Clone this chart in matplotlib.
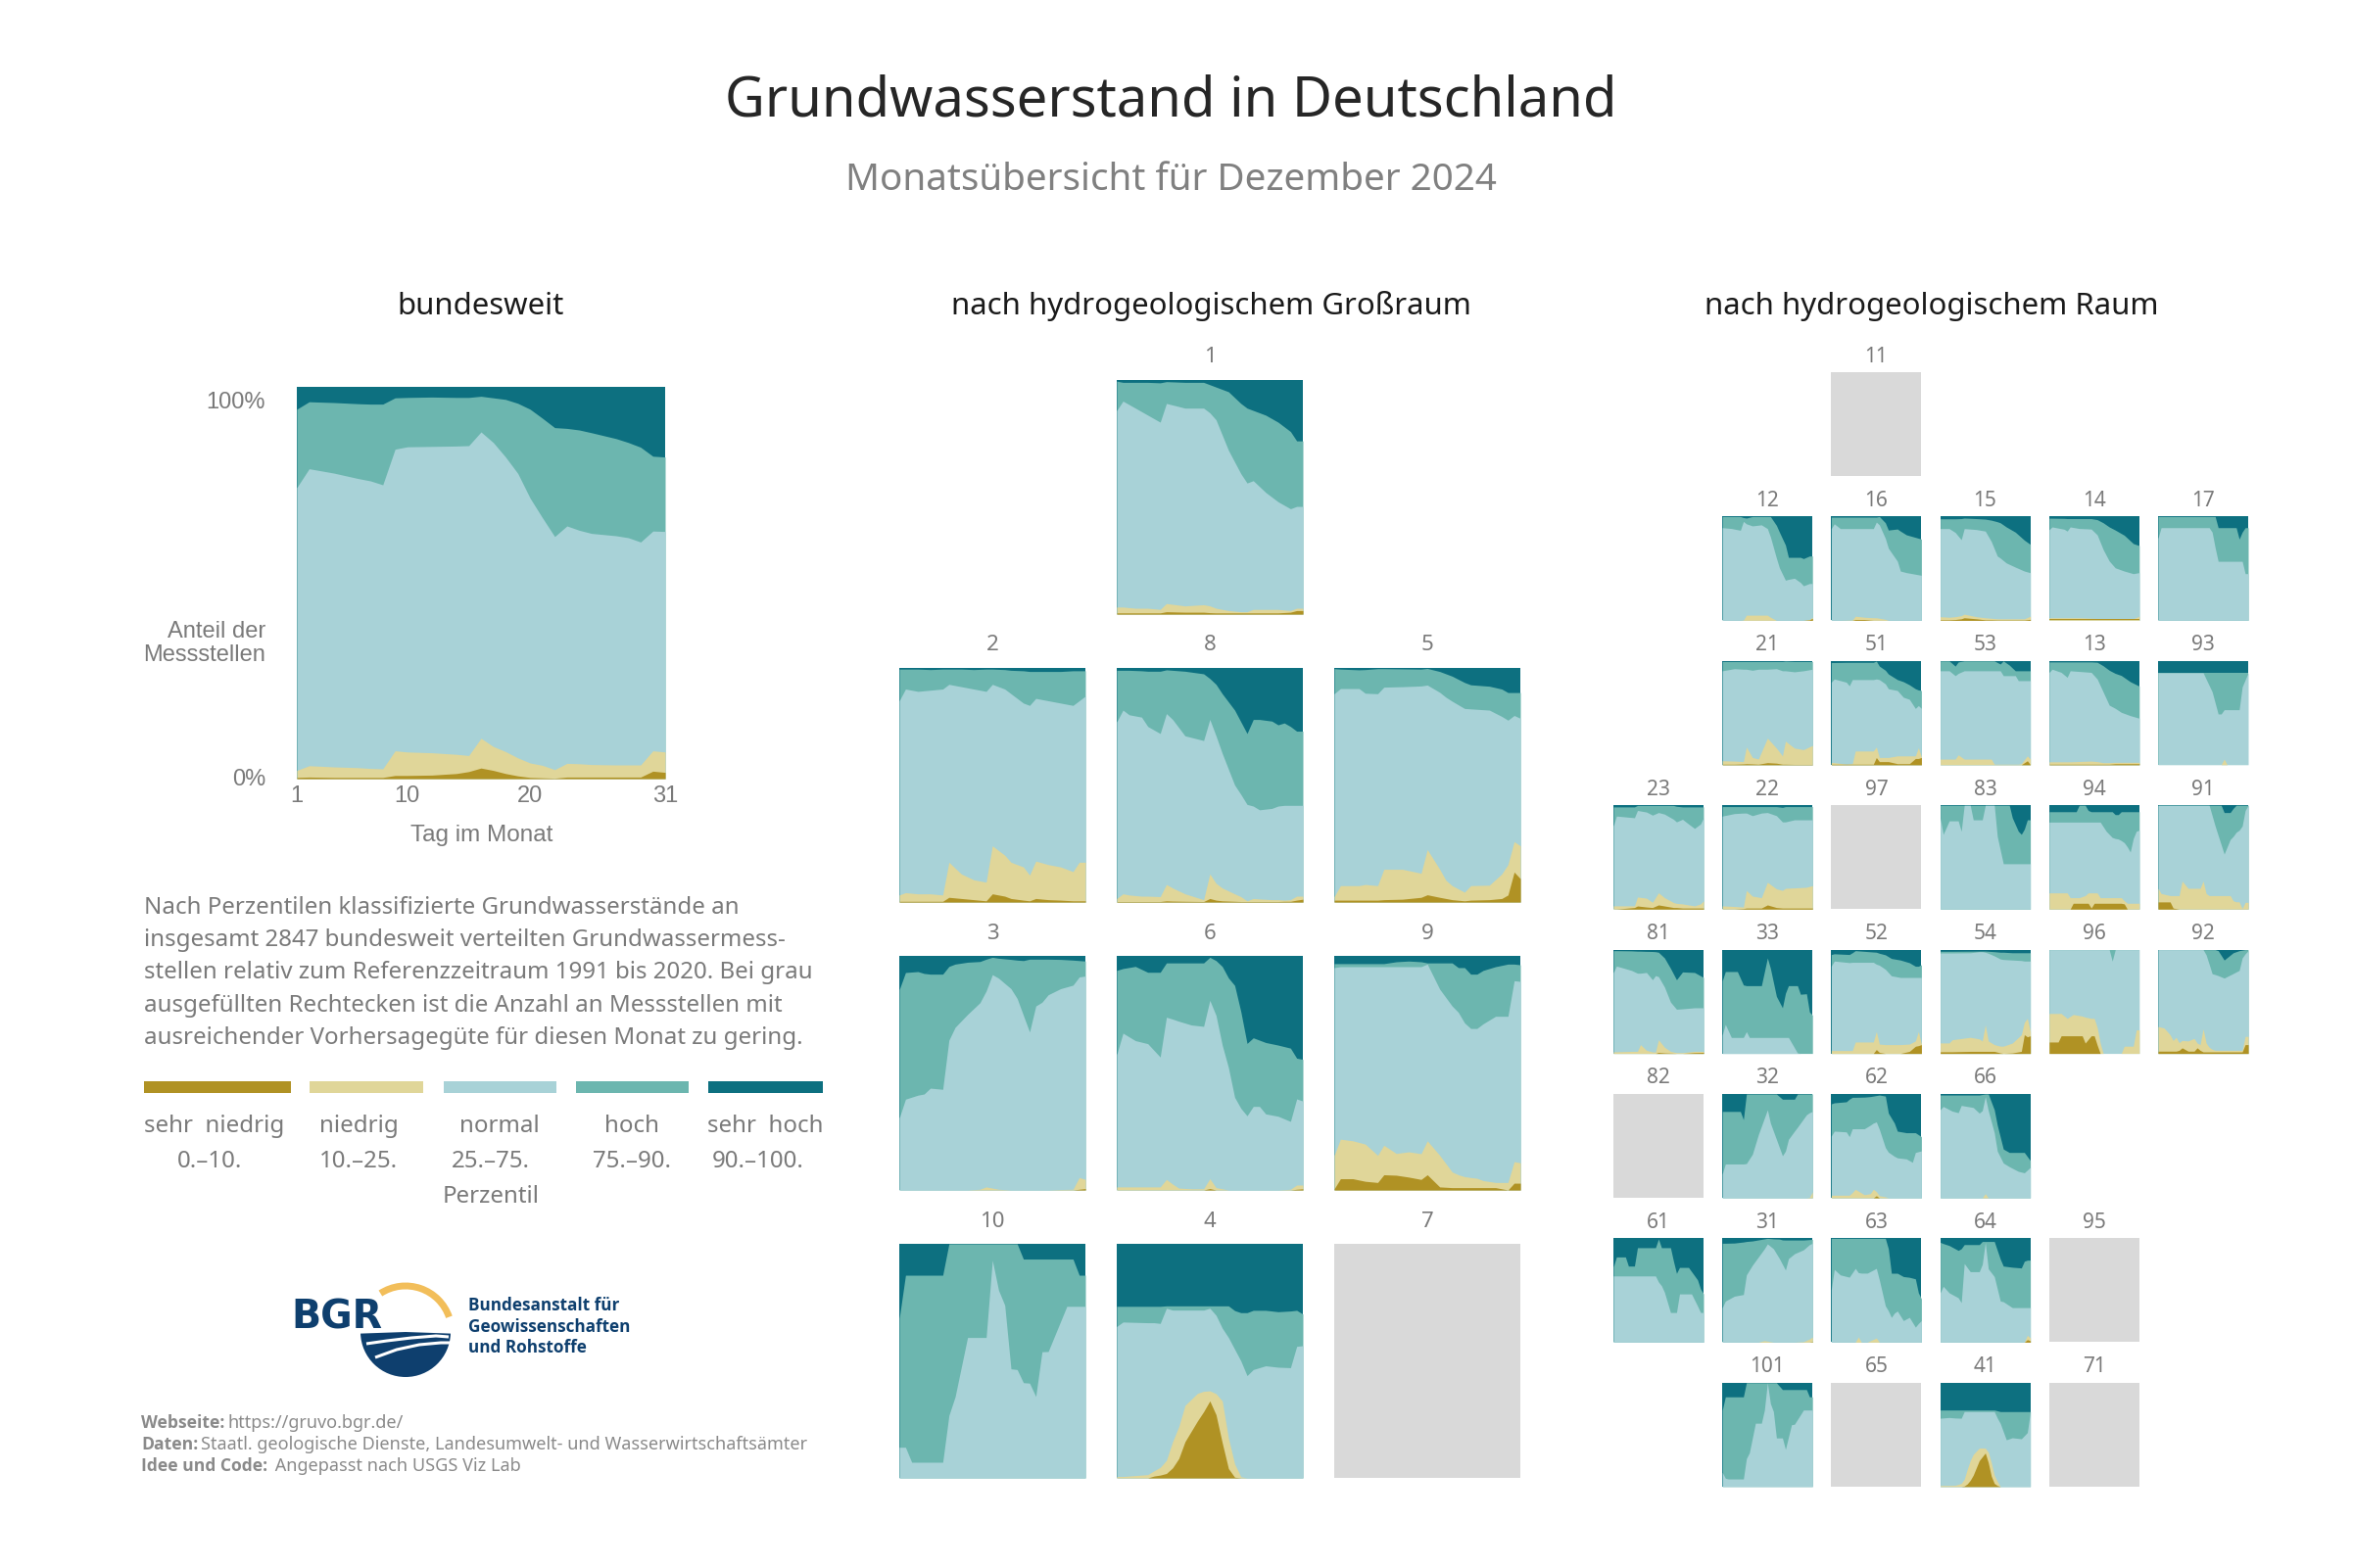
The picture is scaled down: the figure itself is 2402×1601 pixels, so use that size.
import matplotlib
matplotlib.use("Agg")
import matplotlib.pyplot as plt
import numpy as np
from matplotlib.patches import Arc, Wedge

plt.rcParams["font.family"] = ["Noto Sans", "DejaVu Sans"]

W, H = 2402, 1601

CLASS_NAMES = ["sehr  niedrig", "niedrig", "normal", "hoch", "sehr  hoch"]
CLASS_RANGES = ["0.–10.", "10.–25.", "25.–75.", "75.–90.", "90.–100."]
CLASS_COLORS = ["#B09224", "#E0D699", "#A8D2D7", "#6CB6AF", "#0D7080"]
NO_DATA = "#D9D9D9"
DAY_TICKS = [1, 10, 20, 31]

# rows: (day, top of sehr niedrig, top of niedrig, top of normal, top of hoch), cumulative %
BUNDESWEIT = [
    (1, 0.3, 2.1, 74.3, 94.3), (2, 0.4, 3.3, 79.1, 96.2), (4, 0.3, 3.0, 78, 96),
    (6, 0.3, 2.8, 76.6, 95.7), (7, 0.3, 2.6, 76, 95.6), (8, 0.3, 2.5, 75, 95.6),
    (9, 0.8, 7.1, 84.1, 97.2), (10, 0.8, 6.8, 84.7, 97.3), (12, 0.9, 6.6, 84.8, 97.4),
    (14, 1.3, 6.2, 84.9, 97.3), (15, 1.8, 5.9, 85, 97.3), (16, 2.7, 10.3, 88.5, 97.6),
    (17, 2.1, 8.2, 85.8, 97.2), (18, 1.3, 6.9, 82.1, 96.8), (19, 0.7, 5.3, 77.9, 95.8),
    (20, 0.3, 4.0, 71.6, 94.3), (21, 0.2, 3.4, 66.6, 92), (22, 0.1, 2.3, 61.8, 89.6),
    (23, 0.4, 3.9, 64.5, 89.4), (24, 0.4, 3.8, 63.4, 89), (25, 0.4, 3.6, 62.6, 88.3),
    (27, 0.4, 3.5, 62, 86.8), (28, 0.4, 3.5, 61.5, 85.8), (29, 0.4, 3.5, 60.4, 84.6),
    (30, 1.9, 7.1, 63.2, 82.3), (31, 1.6, 6.8, 63.1, 82.1),
]

GR_1 = [
    (1, 0.5, 3, 87, 99.5), (2, 0.5, 3, 91, 99), (4, 0.5, 2.5, 88, 99), (6, 0.5, 2.5, 85, 99),
    (8, 0.5, 2, 82, 98.8), (9, 1, 4.5, 90, 99.3), (12, 0.8, 3.5, 88, 99), (15, 0.8, 4, 88, 99),
    (16, 0.6, 3.5, 86, 98), (17, 0.5, 2.5, 83, 97), (19, 0.5, 1.5, 70, 95), (21, 0.5, 1, 60, 90),
    (22, 0.5, 1, 56, 88), (23, 0.5, 2, 57, 87), (25, 0.5, 2, 52, 85), (27, 0.5, 2, 48, 82),
    (29, 0.8, 1.5, 45, 78), (30, 1.5, 2.5, 46, 74), (31, 1.5, 2.5, 46, 74),
]
GR_2 = [
    (1, 0.3, 3, 86, 99.5), (2, 0.3, 4, 91, 99.5), (4, 0.3, 3.5, 90, 99.5), (6, 0.3, 3.5, 90.5, 99.3),
    (8, 0.3, 3, 91, 99.5), (9, 2, 17, 93, 99.5), (11, 1.5, 12, 92, 99.5), (13, 1, 9.5, 91, 99.3),
    (15, 0.5, 8.5, 90, 99.5), (16, 3.5, 24, 93, 99.5), (18, 2.5, 20, 91, 99.3), (19, 1.5, 17, 89, 99),
    (21, 0.8, 15, 85, 98.8), (22, 0.5, 11.5, 84, 98.5), (23, 1.5, 17.5, 87, 98.5), (25, 1, 16, 86, 98.5),
    (27, 0.8, 15, 85, 98.5), (29, 0.5, 13, 84, 98.8), (30, 0.5, 17, 86, 98.8), (31, 0.5, 17, 88, 98.8),
]
GR_8 = [
    (1, 0.2, 1.5, 77, 99), (2, 0.2, 3.5, 82, 99), (3, 0.2, 3, 80, 99), (5, 0.2, 2.5, 79, 98.8),
    (6, 0.2, 2.5, 75, 98.6), (8, 0.2, 2.3, 72, 98.6), (9, 0.5, 7.5, 80.5, 99.2), (10, 0.4, 6, 78, 99),
    (12, 0.3, 3.5, 71, 98.6), (15, 0.2, 1, 69, 97.5), (16, 1.5, 12, 78, 95.5), (17, 0.8, 8, 71, 93),
    (18, 0.5, 6, 63.5, 89), (20, 0.3, 3.5, 50, 82), (21, 0.2, 2.3, 46, 77), (22, 0.2, 0.5, 41.7, 72),
    (23, 0.2, 1.5, 41, 78), (24, 0.2, 1.3, 39.4, 78), (26, 0.2, 1, 40, 77.3), (27, 0.2, 1, 41, 75.7),
    (28, 0.3, 0.8, 41.3, 76.5), (29, 0.3, 1, 41.3, 75), (30, 0.8, 2.5, 41.3, 73), (31, 1.2, 2.5, 41.3, 73),
]
GR_5 = [
    (1, 0.8, 2.3, 89, 99.7), (2, 0.8, 7, 91.2, 99.5), (5, 0.8, 7, 91.2, 99.2), (6, 0.8, 7.5, 89.2, 99.3),
    (8, 0.8, 7, 89, 99.7), (9, 1, 14, 91.8, 99.7), (12, 1.2, 14, 92, 99.6), (15, 2, 12.3, 92.3, 99.5),
    (16, 3.1, 22.4, 92.7, 99.8), (18, 2, 14, 89.6, 98.5), (19, 1.5, 9.3, 87.5, 97.5), (20, 1, 7, 85.8, 96.5),
    (22, 0.5, 4.2, 82.7, 93.8), (23, 0.8, 7, 82.5, 92.8), (26, 1, 7.2, 82, 92.2), (28, 1.5, 12, 79.3, 91),
    (29, 3, 16, 77.7, 89.5), (30, 12.8, 25.8, 79.7, 89.5), (31, 10, 24, 78.5, 89.5),
]
GR_3 = [
    (1, 0, 0, 30.8, 85.6), (2, 0, 0, 38.8, 92.9), (4, 0, 0, 40.5, 93.3), (5, 0, 0, 41, 92.5),
    (6, 0, 0, 43.5, 92.2), (8, 0, 0, 43, 92.2), (9, 0, 0, 64, 95.5), (10, 0, 0, 69.5, 96.5),
    (12, 0, 0, 75, 97.3), (14, 0, 0.3, 80, 97.6), (15, 0, 1.3, 85, 98.6), (16, 0, 0.8, 92, 99.4),
    (17, 0, 0.3, 90.5, 99), (19, 0, 0, 86, 98.5), (20, 0, 0, 81.8, 98.2), (21, 0, 0, 74.6, 98),
    (22, 0, 0, 67.5, 98.6), (23, 0, 0, 78.6, 98.6), (24, 0, 0, 80.2, 98.6), (25, 0, 0, 83.4, 98.6),
    (27, 0, 0.2, 86, 98.5), (29, 0, 0.3, 87.5, 98.2), (30, 0.3, 5.3, 91, 98), (31, 0.6, 4.5, 91.4, 97.8),
]
GR_6 = [
    (1, 0, 1.3, 57.9, 93.8), (2, 0, 1.3, 67, 94.6), (4, 0, 1.3, 63.8, 95.5), (6, 0, 1.3, 62.5, 93),
    (8, 0, 1.3, 56.8, 93), (9, 0, 4.5, 73.8, 97), (10, 0, 2.5, 73, 97), (11, 0, 0.8, 72.1, 97),
    (13, 0, 0.5, 70.5, 97), (15, 0, 0.5, 69.9, 97), (16, 0.6, 4.8, 81, 99.4), (17, 0, 1, 74.6, 98),
    (18, 0, 0.5, 61.9, 95.5), (19, 0, 0, 52.3, 90.6), (20, 0, 0, 39.6, 87.4), (21, 0, 0, 34.9, 76.2),
    (22, 0, 0, 31.7, 62.6), (23, 0, 0, 35.7, 65), (24, 0, 0, 35.7, 64), (25, 0, 0, 32.5, 63),
    (27, 0, 0, 31.5, 61.9), (29, 0, 0.3, 29.3, 60.6), (30, 0.3, 2.1, 38.9, 56.3), (31, 0.5, 2.1, 38, 55.8),
]
GR_9 = [
    (1, 0.5, 14.8, 95, 96.7), (2, 4.8, 21.7, 95.4, 96.7), (4, 4.8, 21, 95.4, 96.7), (6, 3.7, 19.6, 95.4, 96.7),
    (8, 3.2, 14.8, 95.4, 96.7), (9, 6.5, 19.1, 95.4, 96.7), (11, 6.3, 15.6, 95.4, 97.5), (13, 5.5, 16.3, 95.4, 97.8),
    (15, 4.5, 15.5, 95.4, 97.5), (16, 6.5, 21, 96.5, 97), (18, 1.3, 14.8, 85.8, 97), (20, 1, 7.7, 78.6, 97),
    (21, 1, 6.5, 75.9, 95), (22, 1, 5.7, 71.4, 95), (23, 1, 5.3, 69, 92.2), (24, 1, 5, 69, 92.2),
    (25, 1, 4, 71, 93.8), (27, 1, 3.2, 74.2, 95.4), (29, 0, 3.2, 74.2, 96.5), (30, 2.9, 12.1, 89.4, 96.5),
    (31, 2.9, 11.6, 89.1, 96.2),
]
GR_10 = [
    (1, 0, 0, 13.1, 68.2), (2, 0, 0, 13.1, 86.6), (3, 0, 0, 6.7, 86.6), (8, 0, 0, 6.7, 86.6),
    (9, 0, 0, 26.7, 100), (10, 0, 0, 34.7, 100), (12, 0, 0, 60, 100), (15, 0, 0, 60, 100),
    (16, 0, 0, 93, 100), (17, 0, 0, 80.2, 100), (18, 0, 0, 73.8, 100), (19, 0, 0, 46.6, 100),
    (20, 0, 0, 46.3, 100), (21, 0, 0, 40.7, 93.5), (22, 0, 0, 40.5, 93.5), (23, 0, 0, 34.8, 93.5),
    (24, 0, 0, 53.9, 93.5), (25, 0, 0, 54, 93.5), (28, 0, 0, 73.3, 93.5), (29, 0, 0, 73.3, 93.5),
    (30, 0, 0, 73.3, 86.6), (31, 0, 0, 73.3, 86.6),
]
GR_4 = [
    (1, 0, 0.6, 64.7, 73.3), (2, 0, 0.6, 66.6, 73.3), (6, 0, 1.4, 66.3, 73.3), (7, 0.8, 3, 66.3, 73.3),
    (8, 1.2, 4.5, 66, 73.3), (9, 1.9, 7.5, 72.5, 73.5), (10, 4.3, 15.5, 71.7, 73.5), (11, 8.3, 21.9, 71.7, 73.5),
    (12, 15.5, 31, 71.7, 73.5), (14, 24.3, 36.1, 71.7, 73.5), (15, 28.3, 37, 71.7, 73.5), (16, 32.9, 37.2, 72.5, 73.5),
    (17, 27, 36, 69.5, 73.5), (18, 15, 32.9, 64, 73.5), (19, 4, 17, 60, 73.5), (20, 0.3, 6, 55, 71.5),
    (21, 0, 0.5, 50, 70.6), (22, 0, 0, 43.7, 70.6), (23, 0, 0, 46.3, 71.6), (25, 0, 0, 47.9, 71.6),
    (27, 0, 0, 47.3, 71), (29, 0, 0, 47.1, 71.3), (30, 0, 0, 56.2, 71.6), (31, 0, 0, 56.5, 70),
]

R_12 = [
    (1, 0, 0, 89.3, 100), (4, 0, 0, 88.5, 100), (7, 0, 0, 86.8, 100), (8, 0, 0.3, 95.3, 99),
    (9, 0, 5, 93, 98.5), (11, 0, 5, 91, 100), (14, 0, 5, 92, 100), (16, 0, 5, 88.4, 100),
    (17, 0, 3, 80.5, 100), (19, 0, 0, 60, 91.5), (20, 0, 0, 50.6, 85), (22, 0, 0, 38.7, 72.6),
    (23, 0, 0, 39.5, 60.7), (25, 0, 0, 40.6, 60.7), (27, 0, 0, 36.5, 60.7), (28, 0, 0, 33.3, 59.5),
    (30, 0.5, 0.8, 35.5, 62), (31, 2, 3, 35.5, 62),
]
R_16 = [
    (1, 0, 0, 88.4, 99.4), (2, 0, 0, 93, 99.4), (4, 0, 0, 88.4, 99.4), (8, 0, 0.3, 88.4, 99.4),
    (9, 0.8, 4, 88.4, 99.4), (12, 0.8, 3, 88.4, 99.4), (15, 0, 2.5, 88.4, 99.4), (16, 0, 2.5, 94.7, 99.4),
    (17, 0, 2, 92, 100), (19, 0, 1, 79, 94), (20, 0, 0, 69.5, 87), (23, 0, 0, 57, 88),
    (24, 0, 0, 47.5, 86), (26, 0, 0, 46, 82.4), (31, 0, 0, 43.4, 78.3),
]
R_15 = [
    (1, 0.5, 3.5, 88.4, 97.8), (4, 0.5, 3, 88.4, 97.8), (6, 0.8, 3.5, 84.7, 97.8), (8, 1.5, 4.5, 77.7, 98),
    (9, 2.5, 6, 88.4, 98.5), (13, 1.5, 3.5, 87.5, 98), (16, 0.5, 2.5, 86, 97.5), (18, 0.5, 2, 76, 96.5),
    (20, 0.3, 1.5, 62, 95), (21, 0.3, 1.5, 60, 94), (23, 0.3, 1.5, 55.3, 90), (26, 0.3, 1.5, 51.3, 85),
    (29, 0.3, 1.5, 47.5, 77.3), (31, 1, 4, 45.9, 73.2),
]
R_14 = [
    (1, 1, 2.5, 87.4, 98.4), (2, 1, 2.5, 90, 98.4), (6, 1, 2.5, 87.8, 98.2), (7, 1, 2.5, 86, 98),
    (8, 1, 2.5, 90, 98), (11, 1, 2.5, 88.5, 98), (15, 1, 2, 88, 98), (17, 1, 1.8, 82.4, 97),
    (19, 1, 1.5, 68.2, 94), (21, 1, 1.5, 57.2, 90), (23, 1, 1.5, 50.6, 87), (26, 1, 1.5, 47.5, 82),
    (29, 1, 1.5, 45, 74), (31, 1, 4, 46, 72),
]
R_17 = [
    (1, 0, 0, 79, 100), (2, 0, 0, 89.3, 100), (18, 0, 0, 89.3, 100), (19, 0, 0, 85, 100),
    (20, 0, 0, 70, 100), (21, 0, 0, 56.9, 89.3), (27, 0, 0, 56.9, 89.3), (28, 0, 0, 56.9, 78.3),
    (29, 0, 0, 56.9, 85), (30, 0, 0, 45, 89.3), (31, 0, 0, 45, 89.3),
]
R_21 = [
    (1, 0.5, 3.8, 90.5, 99.4), (5, 0.5, 3.5, 92.5, 99.4), (8, 0.8, 3, 92, 99.4), (9, 1, 17, 92, 99.4),
    (11, 0.8, 7, 91, 99.4), (13, 0.5, 5.5, 92, 99.4), (16, 2, 25.6, 92, 99.4), (19, 1.5, 16, 92.5, 99.4),
    (21, 0.5, 8.5, 90.5, 99.4), (22, 0.5, 22.7, 90.5, 99.8), (25, 0.3, 16, 89.5, 99.4), (28, 0.3, 14.5, 90.5, 99.4),
    (31, 0.3, 18.6, 92, 99.4),
]
R_51 = [
    (1, 0.5, 2.2, 79.5, 98.4), (2, 0.5, 2, 82.6, 98.4), (6, 0.5, 0.5, 79.5, 98.6), (7, 0.5, 0.8, 76, 98.6),
    (8, 0.5, 1, 82, 98.6), (9, 0.5, 13.2, 82, 98.6), (15, 0.5, 13.2, 82, 98.6), (16, 6.9, 17, 82.6, 99.8),
    (17, 3, 7, 82, 95), (19, 3, 7, 77.9, 91), (20, 3, 7, 73.2, 87.4), (23, 1, 8.5, 71.5, 82),
    (25, 1, 8.5, 65, 80), (27, 1, 8.5, 63, 77), (29, 6, 8.5, 54.2, 73.2), (30, 6, 16.4, 57, 72),
    (31, 7, 7.5, 54.2, 71.6),
]
R_53 = [
    (1, 0, 5.4, 90.5, 100), (4, 0, 5.4, 90.5, 100), (6, 0, 5.4, 85.8, 95), (7, 0, 9.5, 88, 99),
    (9, 0, 5.4, 90.5, 100), (18, 0, 5.4, 90.5, 100), (19, 0, 0.5, 90.5, 100), (21, 0, 0.5, 90.5, 97),
    (22, 0, 0.5, 85.8, 100), (24, 0, 0.5, 85.8, 96), (26, 0, 0.5, 85.8, 90.5), (27, 0, 0.5, 81, 90.5),
    (28, 0, 1, 81, 90.5), (30, 3.8, 8.5, 81, 90.5), (31, 0, 5.4, 81, 90.5),
]
R_13 = [
    (1, 0.5, 2.8, 89, 99), (2, 0.5, 2.8, 92, 99), (5, 0.5, 2.8, 89, 99), (7, 0.5, 2.8, 84.2, 99),
    (8, 0.5, 2.8, 90.5, 99), (15, 0.5, 3.5, 89, 99), (17, 0.5, 3, 82.6, 98.7), (19, 0.5, 2, 70, 95.3),
    (21, 0.5, 2, 57.4, 91), (23, 1, 2.3, 54.3, 88), (25, 1, 2.3, 50.5, 86), (28, 1, 2.3, 47.3, 80),
    (31, 1, 2.3, 44.8, 75.7),
]
R_93 = [
    (1, 0, 0, 88.6, 88.8), (16, 0, 0, 88.6, 88.8), (19, 0, 0, 70.3, 88.8), (21, 0, 0, 48.9, 88.8),
    (22, 0, 0, 48.9, 88.8), (23, 0, 5.4, 53, 88.8), (24, 0, 0, 53, 88.8), (28, 0, 0, 53, 88.8),
    (29, 0, 0, 75, 88.8), (31, 0, 0, 88.6, 88.8),
]
R_23 = [
    (1, 0, 3.1, 80.2, 98.4), (2, 0, 3.1, 89.6, 98.4), (8, 1.5, 3.1, 88, 98.4), (9, 3, 11.6, 95, 99.8),
    (12, 2, 10.5, 93.5, 99.8), (14, 1.5, 6.5, 90.5, 99.8), (16, 4, 15.7, 93, 99.8), (18, 3, 11, 91.5, 99.8),
    (21, 1.5, 6.3, 86.5, 99.8), (22, 1.5, 5.5, 84, 99), (24, 1, 5, 86.5, 98.4), (26, 1, 4, 82, 98.4),
    (28, 1, 3.1, 77.7, 98.4), (30, 1, 5, 82, 98.4), (31, 1, 7.9, 88, 98.4),
]
R_22 = [
    (1, 0, 3.1, 89.6, 98.7), (5, 0, 2.5, 92, 98.7), (8, 0.5, 2, 92.5, 98.7), (9, 1, 17.9, 92.5, 98.7),
    (11, 1, 12.5, 90, 98.7), (14, 1, 11, 92.5, 98.7), (16, 4, 25.8, 93, 98.7), (19, 1.5, 19.5, 90, 98.7),
    (21, 1, 18, 84, 98), (22, 1, 20, 84, 98.7), (25, 1, 20.4, 86, 98.7), (29, 1, 21, 86, 98.7),
    (31, 1, 22.6, 86, 98.7),
]
R_83 = [
    (1, 0, 0, 87.5, 100), (2, 0, 0, 72, 100), (4, 0, 0, 85, 100), (7, 0, 0, 85, 100),
    (8, 0, 0, 75, 100), (9, 0, 0, 100, 100), (11, 0, 0, 100, 100), (12, 0, 0, 86, 100),
    (15, 0, 0, 86, 100), (16, 0, 0, 100, 100), (19, 0, 0, 100, 100), (20, 0, 0, 70, 100),
    (22, 0, 0, 43.7, 100), (24, 0, 0, 43.7, 100), (25, 0, 0, 43.7, 88), (27, 0, 0, 43.7, 75),
    (28, 0, 0, 43.7, 72), (29, 0, 0, 43.7, 77), (30, 0, 0, 43.7, 86), (31, 0, 0, 43.7, 86),
]
R_94 = [
    (1, 0, 15.6, 83.8, 93.8), (7, 0, 15.6, 83.8, 93.8), (8, 0, 11, 83.8, 93.8), (9, 5.6, 11, 83.8, 93.8),
    (10, 5.6, 11, 83.8, 93.8), (11, 5.6, 11, 83.8, 100), (13, 5.6, 13, 83.8, 100), (14, 5.6, 15.6, 83.8, 95),
    (15, 1, 15.6, 83.8, 93.8), (16, 5.6, 15.6, 83.8, 93.8), (17, 5.6, 15.6, 83.8, 93.8), (18, 5.6, 11, 83.8, 93.8),
    (20, 5.6, 11, 75, 93.8), (22, 5.6, 11, 69, 93.8), (23, 5.6, 11, 68, 91), (24, 5.6, 11, 67.5, 91),
    (25, 5.6, 11, 66, 93.8), (26, 5, 8, 64, 93.8), (27, 0, 5.6, 60, 93.8), (28, 0, 5.6, 55, 93.8),
    (29, 0, 5.6, 68, 93.8), (30, 0, 5.6, 75, 93.8), (31, 0, 5.6, 76, 93.8),
]
R_91 = [
    (1, 6.9, 20, 100, 100), (2, 6.9, 15, 100, 100), (5, 6.9, 13, 100, 100), (6, 1, 13, 100, 100),
    (8, 0, 13, 100, 100), (9, 0, 27, 100, 100), (11, 0, 20, 100, 100), (15, 0, 20, 100, 100),
    (16, 0, 27, 100, 100), (17, 0, 15, 100, 100), (18, 0, 13, 100, 100), (20, 0, 13, 80, 100),
    (22, 0, 13, 62, 100), (23, 0, 13, 53, 93), (25, 0, 13, 67, 93), (26, 0, 8, 70, 97),
    (27, 0, 7, 74, 100), (28, 0, 7, 76, 100), (29, 0, 0.5, 80, 100), (30, 0, 6.5, 95, 100),
    (31, 0, 6.5, 100, 100),
]
R_81 = [
    (1, 0, 1.6, 77.9, 99), (2, 0, 1.6, 84.2, 99), (7, 0, 2, 80, 98.8), (9, 0, 2, 77.3, 98.5),
    (10, 0, 8.5, 77.3, 98.5), (12, 0, 3, 78, 98.3), (14, 0, 1.5, 71, 98.2), (15, 0, 1.3, 75, 98),
    (16, 1, 13.2, 74, 97.5), (18, 0.5, 6, 64, 92), (20, 0.3, 2, 49.5, 82), (22, 0, 0.8, 42.6, 71),
    (24, 0, 0.8, 43, 78.5), (28, 0.8, 2, 44, 78), (31, 1, 2, 44, 73.2),
]
R_33 = [
    (1, 0, 0, 18, 70), (2, 0, 0, 28, 78.9), (4, 0, 0, 15.4, 78.9), (6, 0, 0, 15.4, 78.9),
    (8, 0, 0, 15.4, 66), (9, 0, 0, 21, 65.3), (10, 0, 0, 15.4, 65.3), (14, 0, 0, 15.4, 65.3),
    (16, 0, 0, 15.4, 92), (17, 0, 0, 15.4, 82), (19, 0, 0, 15.4, 55), (21, 0, 0, 15.4, 44),
    (22, 0, 0, 15.4, 58), (23, 0, 0, 15.4, 65.3), (26, 0, 0, 0.5, 65.3), (27, 0, 0, 0, 57),
    (29, 0, 0, 0, 57.5), (30, 0, 0, 0, 40), (31, 0, 0, 0, 36.9),
]
R_52 = [
    (1, 0, 2.8, 84.2, 95.3), (2, 0, 2.8, 89, 96), (7, 0, 2.8, 87.5, 95.3), (8, 0, 2.8, 87.8, 97),
    (9, 0, 11, 87.8, 99), (15, 0, 11, 87.8, 97.7), (16, 3.8, 21.1, 86, 97.5), (17, 1, 9, 85, 96.5),
    (19, 0, 8.5, 81.1, 95), (21, 0, 8.5, 74.8, 91.5), (24, 0, 8.5, 73.2, 90), (27, 2, 9, 73.2, 87.4),
    (29, 6.9, 12, 73.2, 84), (30, 7.5, 21.1, 73.2, 84), (31, 8.5, 9, 73.2, 85.5),
]
R_54 = [
    (1, 1.6, 10.1, 96.8, 98.4), (4, 1.6, 10.1, 96.8, 98.4), (5, 1.6, 13.2, 96.8, 98.4), (11, 2, 15.5, 97, 98.5),
    (14, 2, 14, 98, 98.6), (15, 2, 12, 98, 98.6), (16, 2, 27.6, 97.5, 98.6), (17, 2, 12, 96.5, 98.4),
    (19, 2, 8.5, 94, 98), (21, 0.5, 7, 91, 97.5), (22, 0, 7, 90.5, 97.5), (25, 0.5, 10, 90, 97),
    (28, 2, 18, 89.5, 97), (29, 18, 30, 89, 97), (30, 16, 33.8, 89, 97), (31, 17, 21, 89, 97),
]
R_96 = [
    (1, 11, 38.5, 100, 100), (4, 11, 38.5, 100, 100), (5, 17, 38.5, 100, 100), (7, 17, 33.8, 100, 100),
    (9, 17, 37.5, 100, 100), (12, 17, 36, 100, 100), (13, 10, 35, 100, 100), (15, 17, 33.8, 100, 100),
    (16, 17, 33.8, 100, 100), (17, 8, 25, 100, 100), (18, 0, 10, 100, 100), (19, 0, 0, 100, 100),
    (21, 0, 0, 100, 100), (22, 0, 0, 89, 100), (23, 0, 0, 100, 100), (25, 0, 0, 100, 100),
    (26, 0, 7, 100, 100), (29, 0, 7, 100, 100), (30, 0, 22.7, 100, 100), (31, 0, 22.7, 100, 100),
]
R_92 = [
    (1, 2.2, 25.9, 100, 100), (3, 2.2, 24.5, 100, 100), (5, 2.2, 18, 100, 100), (6, 2.2, 12.5, 100, 100),
    (7, 2.2, 15.5, 100, 100), (8, 3, 10.4, 100, 100), (9, 5.4, 12.5, 100, 100), (11, 2.2, 12, 100, 100),
    (13, 2.2, 14.5, 100, 100), (14, 5.4, 10, 100, 100), (15, 3, 8.5, 100, 100), (16, 1.5, 23.7, 100, 100),
    (17, 1.5, 10, 95, 100), (18, 1.5, 6, 86, 100), (19, 1.5, 4, 76.8, 100), (20, 1.5, 3, 76, 100),
    (21, 1.5, 3, 75, 99), (23, 1.5, 3, 72.6, 90), (26, 1.5, 3, 77, 97), (28, 1.5, 3, 80, 99),
    (29, 1.5, 3, 92, 99.5), (30, 8.5, 16.4, 96, 100), (31, 8.5, 16.4, 99, 100),
]
R_32 = [
    (1, 0, 0, 23.1, 83.2), (2, 0, 0, 32.6, 83.2), (7, 0, 0, 32.6, 83.2), (8, 0, 0, 32.6, 75.3),
    (9, 0, 0, 33, 100), (11, 0, 0, 42, 100), (13, 0, 0, 61, 100), (16, 0, 0, 84.8, 100),
    (17, 0, 0, 72, 100), (19, 0, 0, 56.3, 100), (21, 0, 0, 40.5, 95), (22, 0, 0, 45, 95),
    (23, 0, 0, 56.3, 95), (25, 0, 0, 64.2, 95), (26, 0, 0, 68, 100), (27, 0, 0, 72, 100),
    (29, 0, 0, 80, 100), (30, 0, 0.5, 82, 100), (31, 0, 5.7, 83.2, 100),
]
R_62 = [
    (1, 0, 2.5, 59.5, 90.5), (2, 0, 2.5, 64.2, 91.5), (6, 0, 2.5, 63.5, 92.5), (7, 0, 2.5, 58.9, 95),
    (8, 0, 5, 66.5, 96.8), (9, 0, 8.2, 66.5, 96.8), (12, 0, 3, 66.5, 97), (14, 0, 4, 70, 97.5),
    (15, 0, 8.2, 72, 98), (16, 2, 6, 73.1, 98.5), (17, 0, 2, 66, 99), (19, 0, 1, 48.4, 98),
    (20, 0, 0, 44, 81.6), (22, 0, 0, 40, 72), (23, 0, 0, 38.5, 64.2), (26, 0, 0, 37.5, 62.7),
    (28, 0, 0, 34.2, 62.7), (29, 0, 0, 43.7, 62.7), (31, 0, 0, 45.2, 58.9),
]
R_66 = [
    (1, 0, 0, 84.8, 99), (2, 0, 0, 88, 99), (5, 0, 0, 83.5, 99), (7, 0, 0, 82, 99),
    (8, 0, 0, 89, 99), (12, 0, 0, 87, 99), (14, 0, 0, 81.6, 99), (15, 0, 0, 84, 99.5),
    (16, 0, 4, 97.5, 100), (17, 0, 0, 84, 100), (19, 0, 0, 62.7, 84.8), (20, 0, 0, 45, 70),
    (22, 0, 0, 33.5, 47), (24, 0, 0, 30, 43.7), (27, 0, 0, 25.5, 43.7), (29, 0, 0, 24.1, 43.7),
    (31, 0, 0, 29.4, 35.8),
]
R_61 = [
    (1, 0, 0, 63.8, 72.6), (2, 0, 0, 63.8, 82.1), (5, 0, 0, 63.8, 82.1), (6, 0, 0, 63.8, 73.3),
    (8, 0, 0, 63.8, 73.3), (9, 0, 0, 63.8, 91), (15, 0, 0, 63.8, 91), (16, 0, 0, 58, 99.4),
    (17, 0, 0, 54.4, 91), (18, 0, 0, 48, 91), (20, 0, 0, 28.6, 91), (21, 0, 0, 28.6, 78),
    (22, 0, 0, 28.6, 66.3), (23, 0, 0, 46.5, 72), (26, 0, 0, 46.5, 72), (27, 0, 0, 46.5, 68),
    (29, 0, 0, 34.9, 60), (30, 0, 0, 28.6, 51.2), (31, 0, 0, 28.6, 46.5),
]
R_31 = [
    (1, 0, 0, 33.3, 95.3), (2, 0, 0, 39.6, 95.3), (5, 0, 0, 44.3, 95.5), (8, 0, 0, 45.9, 96.5),
    (9, 0, 0, 64.8, 97), (11, 0, 0, 74.2, 97.5), (13, 0, 0, 82.1, 98.5), (15, 0, 1.5, 90, 99.5),
    (16, 0, 1, 94.7, 100), (18, 0, 0, 90, 99.5), (20, 0, 0, 80.5, 99.3), (21, 0, 0, 75, 98.5),
    (22, 0, 0, 69.5, 98.4), (23, 0, 0, 80.5, 98.4), (25, 0, 0, 85.2, 98.4), (28, 0, 0.5, 89, 98.4),
    (30, 0, 3, 94, 98.8), (31, 0.5, 5, 95.3, 99),
]
R_63 = [
    (1, 0, 0, 50.6, 100), (2, 0, 0, 70.1, 100), (4, 0, 0, 64.8, 100), (7, 0, 0, 62.6, 100),
    (9, 0, 0, 71.1, 100), (10, 0, 5, 67, 100), (11, 0, 0, 66.5, 100), (13, 0, 0, 66.5, 100),
    (16, 0, 4, 71.1, 100), (17, 0, 0, 60, 100), (19, 0, 0, 35, 100), (20, 0, 0, 30.2, 90),
    (21, 0, 0, 23.9, 66.4), (22, 0, 0, 28, 66.4), (23, 0, 0, 30, 66.4), (25, 0, 0, 20.8, 63.2),
    (27, 0, 0, 23.9, 62.5), (29, 0, 0, 14.5, 61), (30, 0, 0, 18, 47.5), (31, 0, 0, 20.8, 41.8),
]
R_64 = [
    (1, 0, 0, 47.5, 96.2), (2, 0, 0, 53.8, 95), (4, 0, 0, 47.5, 93.1), (7, 0, 0, 42.8, 88.4),
    (8, 0, 0, 38.1, 90), (9, 0, 0, 75.8, 94), (11, 0, 0, 67.9, 94), (14, 0, 0, 67.9, 94),
    (15, 0, 0, 75, 97), (16, 0, 0, 96.2, 97), (17, 0, 0, 70.7, 97), (19, 0, 0, 63.2, 97),
    (21, 0, 0, 39.6, 80), (22, 0, 0, 39, 73.3), (25, 0, 0, 33.3, 72.2), (28, 0, 0, 33.3, 71.5),
    (29, 0, 0, 33.3, 78), (30, 2.5, 6.6, 33.3, 79), (31, 1.3, 4, 33.3, 79),
]
R_101 = [
    (1, 0, 0, 13.6, 73.7), (2, 0, 0, 8, 86.4), (3, 0, 0, 7.3, 86.4), (8, 0, 0, 7.3, 86.4),
    (9, 0, 0, 26.9, 100), (10, 0, 0, 32.6, 100), (12, 0, 0, 61, 100), (14, 0, 0, 61, 100),
    (15, 0, 0, 73.7, 100), (16, 0, 0, 100, 100), (17, 0, 0, 80, 100), (18, 0, 0, 72.2, 100),
    (19, 0, 0, 46.8, 100), (21, 0, 0, 46.8, 93.4), (22, 0, 0, 35.8, 93.4), (24, 0, 0, 59.5, 93.4),
    (25, 0, 0, 60, 93.4), (28, 0, 0, 73.7, 93.4), (29, 0, 0, 73.7, 93.4), (30, 0, 0, 73.7, 86.4),
    (31, 0, 0, 73.7, 86.4),
]
R_41 = [
    (1, 0, 1, 65.8, 73.7), (4, 0, 1, 66.5, 73.7), (6, 0, 1.2, 66, 73.7), (8, 0, 3, 65.8, 73.7),
    (9, 0.5, 7, 72.2, 73.7), (10, 2.5, 16.5, 72.2, 73.7), (11, 6, 25, 72.2, 73.7), (12, 11, 31, 72.2, 73.7),
    (14, 25, 37, 72.2, 73.7), (16, 32.3, 37, 72.2, 73.7), (17, 23.1, 33, 72.2, 73.7), (18, 10, 23, 72.2, 73.7),
    (19, 3, 11, 72.2, 73.7), (20, 1, 5, 66, 73), (21, 0, 0, 60.8, 72.2), (23, 0, 0, 45, 72.2),
    (25, 0, 0, 47, 72.2), (28, 0, 0, 46, 72.2), (30, 0, 0, 52, 72.2), (31, 0, 0, 72.2, 72.2),
]

# (label, grid row, grid column, data); None = too few stations (grey)
GROSSRAUM = [
    ("1", 0, 1, GR_1),
    ("2", 1, 0, GR_2), ("8", 1, 1, GR_8), ("5", 1, 2, GR_5),
    ("3", 2, 0, GR_3), ("6", 2, 1, GR_6), ("9", 2, 2, GR_9),
    ("10", 3, 0, GR_10), ("4", 3, 1, GR_4), ("7", 3, 2, None),
]
RAUM = [
    ("11", 0, 2, None),
    ("12", 1, 1, R_12), ("16", 1, 2, R_16), ("15", 1, 3, R_15), ("14", 1, 4, R_14), ("17", 1, 5, R_17),
    ("21", 2, 1, R_21), ("51", 2, 2, R_51), ("53", 2, 3, R_53), ("13", 2, 4, R_13), ("93", 2, 5, R_93),
    ("23", 3, 0, R_23), ("22", 3, 1, R_22), ("97", 3, 2, None), ("83", 3, 3, R_83), ("94", 3, 4, R_94), ("91", 3, 5, R_91),
    ("81", 4, 0, R_81), ("33", 4, 1, R_33), ("52", 4, 2, R_52), ("54", 4, 3, R_54), ("96", 4, 4, R_96), ("92", 4, 5, R_92),
    ("82", 5, 0, None), ("32", 5, 1, R_32), ("62", 5, 2, R_62), ("66", 5, 3, R_66),
    ("61", 6, 0, R_61), ("31", 6, 1, R_31), ("63", 6, 2, R_63), ("64", 6, 3, R_64), ("95", 6, 4, None),
    ("101", 7, 1, R_101), ("65", 7, 2, None), ("41", 7, 3, R_41), ("71", 7, 4, None),
]

fig = plt.figure(figsize=(W / 100, H / 100), dpi=100)
fig.patch.set_facecolor("white")


def px_axes(left, top, width, height):
    return fig.add_axes([left / W, 1 - (top + height) / H, width / W, height / H])


def ftext(x, y, s, **kw):
    return fig.text(x / W, 1 - y / H, s, **kw)


def draw_stack(ax, rows):
    ax.set_xlim(1, 31)
    ax.set_ylim(0, 100)
    ax.set_xticks([])
    ax.set_yticks([])
    for s in ax.spines.values():
        s.set_visible(False)
    if rows is None:
        ax.set_facecolor(NO_DATA)
        return
    arr = np.array(rows, dtype=float)
    days = arr[:, 0]
    # paint from the top class down, each from 0, so no seams show between bands
    tops = [np.full(len(days), 100.0), arr[:, 4], arr[:, 3], arr[:, 2], arr[:, 1]]
    for color, top in zip(CLASS_COLORS[::-1], tops):
        ax.fill_between(days, 0, top, color=color, lw=0)


GREY_TXT = "#7a7a7a"
ARIAL = ["Liberation Sans", "DejaVu Sans"]
BOLD_SANS = ["Open Sans", "DejaVu Sans"]

# titles
ftext(1195, 104, "Grundwasserstand in Deutschland", ha="center", va="center",
      fontsize=40.5, color="#262626")
ftext(1195, 184, "Monatsübersicht für Dezember 2024", ha="center", va="center",
      fontsize=27.8, color="#808080")
for x, s in [(491, "bundesweit"), (1236, "nach hydrogeologischem Großraum"),
             (1972, "nach hydrogeologischem Raum")]:
    ftext(x, 313, s, ha="center", va="center", fontsize=22.4, color="#1a1a1a")

# bundesweit
ax = px_axes(303, 395, 376, 400)
draw_stack(ax, BUNDESWEIT)
ax.set_xticks(DAY_TICKS)
ax.set_xticklabels([str(d) for d in DAY_TICKS], family=ARIAL, fontsize=17, color=GREY_TXT)
ax.tick_params(axis="x", length=0, pad=5)
lab = dict(family=ARIAL, fontsize=17, color=GREY_TXT, transform=ax.transAxes,
           ha="right", va="center")
ax.text(-0.085, 0.96, "100%", **lab)
ax.text(-0.085, -0.002, "0%", **lab)
ax.text(-0.085, 0.345, "Anteil der\nMessstellen", linespacing=1.15, **lab)
ftext(492, 853, "Tag im Monat", ha="center", va="center", fontsize=17.5, color=GREY_TXT,
      family=ARIAL)

# description
DESCRIPTION = [
    "Nach Perzentilen klassifizierte Grundwasserstände an",
    "insgesamt 2847 bundesweit verteilten Grundwassermess-",
    "stellen relativ zum Referenzzeitraum 1991 bis 2020. Bei grau",
    "ausgefüllten Rechtecken ist die Anzahl an Messstellen mit",
    "ausreichender Vorhersagegüte für diesen Monat zu gering.",
]
for i, line in enumerate(DESCRIPTION):
    ftext(147, 927 + i * 33.2, line, ha="left", va="center", fontsize=17.3, color=GREY_TXT)

# legend
bar_x = [(147, 297), (316, 432), (453, 568), (588, 703), (723, 840)]
name_x = [219, 366, 510, 645, 781]
range_x = [214, 366, 501, 645, 774]
lax = px_axes(0, 1104, W, 12)
lax.set_xlim(0, W)
lax.set_ylim(0, 1)
lax.axis("off")
for (x0, x1), c in zip(bar_x, CLASS_COLORS):
    lax.fill_between([x0, x1], 0, 1, color=c, lw=0)
for x, s in zip(name_x, CLASS_NAMES):
    ftext(x, 1150, s, ha="center", va="center", fontsize=17.3, color=GREY_TXT)
for x, s in zip(range_x, CLASS_RANGES):
    ftext(x, 1186, s, ha="center", va="center", fontsize=17.3, color=GREY_TXT)
ftext(501, 1222, "Perzentil", ha="center", va="center", fontsize=17.3, color=GREY_TXT)

# logo
BLUE = "#0E3F6E"
gax = fig.add_axes([0, 0, 1, 1], zorder=-1)
gax.set_xlim(0, W)
gax.set_ylim(0, H)
gax.axis("off")
cx, cy = 414, H - 1360
gax.add_patch(Arc((cx, cy), 94, 94, theta1=19, theta2=123, lw=5, color="#F2BE5A"))
gax.add_patch(Wedge((cx, cy), 46, 182, 358, color=BLUE, lw=0))
for pts in ([(374, 1372), (395, 1369), (420, 1366), (445, 1364), (458, 1365)],
            [(383, 1386), (405, 1378), (428, 1373), (450, 1371), (459, 1371)]):
    xs = [p[0] for p in pts]
    ys = [H - p[1] for p in pts]
    gax.plot(xs, ys, color="white", lw=2.2, solid_capstyle="butt")
ftext(344, 1345, "BGR", ha="center", va="center", fontsize=28.5, fontweight="bold",
      color=BLUE, family=["DejaVu Sans"])
for i, s in enumerate(["Bundesanstalt für", "Geowissenschaften", "und Rohstoffe"]):
    ftext(478, 1333 + i * 21.5, s, ha="left", va="center", fontsize=12.3,
          fontweight="bold", color=BLUE, family=BOLD_SANS)

# footer
renderer = fig.canvas.get_renderer()
FOOTER = [
    ("Webseite:", "https://gruvo.bgr.de/"),
    ("Daten:", "Staatl. geologische Dienste, Landesumwelt- und Wasserwirtschaftsämter"),
    ("Idee und Code:", " Angepasst nach USGS Viz Lab"),
]
for i, (head, rest) in enumerate(FOOTER):
    y = 1453 + i * 22
    t = ftext(144, y, head, ha="left", va="center", fontsize=12.6, fontweight="bold",
              color="#8a8a8a", family=BOLD_SANS)
    w = t.get_window_extent(renderer).width
    ftext(144 + w + 3, y, rest, ha="left", va="center", fontsize=13, color="#8a8a8a")

# Großraum panels
for label, r, c, rows in GROSSRAUM:
    left = 918 + c * 222
    top = 388 + r * 294
    draw_stack(px_axes(left, top, 190, 239), rows)
    ftext(left + 95, top - 23, label, ha="center", va="center", fontsize=16, color=GREY_TXT)

# Raum panels
for label, r, c, rows in RAUM:
    left = 1647 + c * 111.2
    top = 380 + r * 147.4
    draw_stack(px_axes(left, top, 92, 106), rows)
    ftext(left + 46, top - 16, label, ha="center", va="center", fontsize=15, color=GREY_TXT)

fig.savefig("out.png", dpi=100)
